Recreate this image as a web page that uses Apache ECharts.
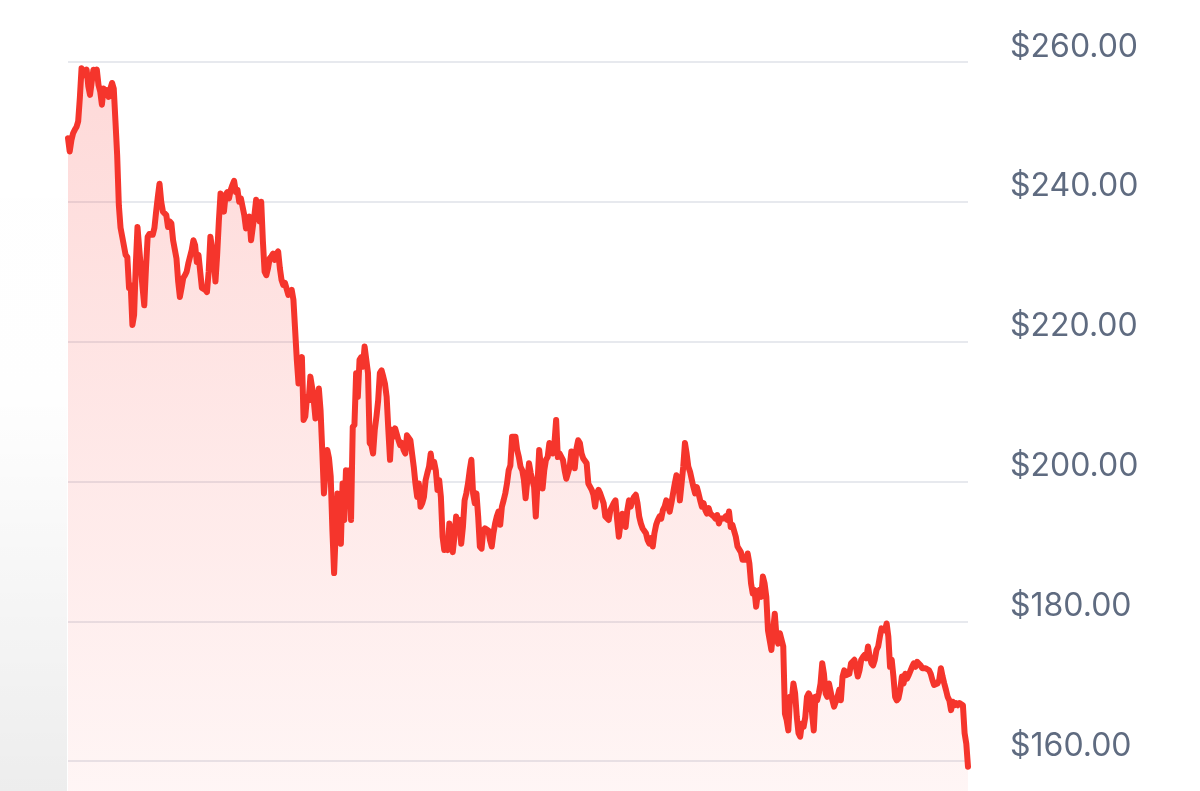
<!DOCTYPE html>
<html>
<head>
<meta charset="utf-8">
<style>
  html, body { margin: 0; padding: 0; background: #ffffff; }
  #chart { width: 1200px; height: 791px; }
</style>
<script src="https://cdn.jsdelivr.net/npm/echarts@6/dist/echarts.min.js"></script>
</head>
<body>
<div id="chart"></div>
<script>
// Closing prices, in order (one entry per session)
const pricesA = [
  249.1,247.2,248.8,249.8,250.3,250.7,251.5,254.9,259.1,258.9,258.1,258.9,256.5,255.3,257.2,258.9,258.6,258.9,256.7,255.8,
  253.9,256.2,255.3,256.0,255.0,256.2,257.0,256.2,251.5,246.7,239.5,236.3,235.0,234.8,232.4,232.1,227.7,228.1,222.4,223.8,
  231.0,236.4,233.4,230.5,227.7,225.2,230.5,235.0,235.4,235.5,235.3,236.3,238.6,240.7,242.6,240.0,238.6,238.8,238.1,236.4,
  237.2,236.9,234.5,233.2,231.9,228.6,226.4,227.7,229.1,229.5,230.0,231.2,231.4,233.1,234.5,233.8,231.4,232.4,230.0,227.7,
  227.5,227.4,227.1,230.0,235.0,235.0,231.7,228.6,232.4,237.2,241.2,241.4,238.6,241.0,241.4,240.5,241.7,242.4,243.0,241.4,
  241.7,240.0,240.5,239.3,238.1,236.2,237.2,237.9,234.5,236.3,238.1,240.3,240.3,237.2,240.0,234.3,230.0,229.5,230.5,231.9,
  232.2,232.6,231.7,232.6,232.9,230.5,228.8,228.1,228.4,228.6,226.7,227.0,227.4,226.0
];
const pricesB = [
  221.7,217.4,214.0,216.9,217.8,208.8,209.3,212.1,211.6,215.0,213.5,211.6,209.0,211.6,213.3,210.2,204.5,198.3,201.6,204.5,
  203.3,200.7,193.0,186.9,193.0,198.3,195.4,191.1,199.7,194.5,201.6,199.2,201.6,194.5,207.8,208.1,215.5,212.1,217.4,217.8,
  216.4,219.3,217.4,215.5,205.5,205.2,204.0,207.4,209.3,211.6,215.5,215.9,215.0,214.0,212.1,207.4,203.1,207.4,206.4,207.6,
  207.8,205.9,205.2,205.5,204.5,204.0,206.6,206.4,205.9,204.0,202.1,199.7,197.8,199.7,196.4,196.9,197.8,200.2,201.2,202.1,
  204.0,202.1,202.8,201.6,198.8,200.2,197.8,192.1,190.2,190.7,190.2,194.0,191.1,189.9,192.1,195.0,194.0,194.5,191.1,193.5,
  197.3,198.3,199.7,201.6,203.1,198.3,196.9,198.3,195.0,190.7,190.4,193.0,193.3,193.5,193.0,191.6,190.7,192.6,194.0,195.0,
  195.7,193.8
];
const pricesC = [
  196.4,197.3,198.3,199.7,201.6,202.3,206.4,206.6,206.4,204.5,203.5,202.1,201.6,200.2,197.6,200.2,202.6,201.2,200.2,199.2,
  195.0,199.7,204.5,202.1,199.0,201.6,203.1,203.5,205.5,205.0,204.0,205.5,208.8,203.5,204.0,204.0,203.1,201.6,200.4,200.2,
  202.1,204.3,204.0,201.9,204.7,205.9,205.5,204.0,203.3,203.5,202.6,199.7,199.5,198.8,198.1,196.4,198.3,198.8,198.3,198.3,
  196.9,195.0,195.0,194.5,195.9,196.4,196.9,197.3,194.5,192.1,194.0,195.4,194.0,193.5,195.9,197.3,196.4,197.3,197.8,198.1,
  196.9,195.0,194.0,193.3,193.5,192.6,191.6,191.1,191.9,190.7,192.6,193.8,194.5,195.0,194.7,195.9,196.4,197.3,197.1,195.7,
  196.9,198.3,199.7,200.9,200.2,197.3,199.7,202.1,205.5,204.0,202.1,201.4,201.2,199.2,198.3,199.2,198.3,197.3,196.4,196.9,
  195.9,195.4,196.2,195.4,195.2,195.0,194.7,195.2,194.0,194.7,194.5
];
const pricesD = [
  194.7,195.0,194.5,195.7,193.5,193.8,193.8,192.1,190.7,190.7,189.9,188.8,189.0,188.8,189.7,188.3,185.4,184.0,184.5,182.1,
  184.0,184.5,183.5,186.4,185.4,183.5,178.7,177.3,175.9,178.7,181.1,177.8,176.8,178.3,178.3,176.4,166.8,165.9,164.4,169.2,
  168.7,171.1,169.7,166.3,164.0,163.5,165.4,164.9,166.3,169.2,169.7,169.2,169.2,164.4,169.2,168.7,169.7,171.1,174.0,172.5,
  169.7,169.2,171.1,171.1,168.7,167.8,167.8,169.2,170.2,168.7,172.1,173.0,172.3,172.3,172.5,174.0,174.2,174.5,174.5,172.1,
  173.0,174.5,174.9,175.2,174.7,176.4,174.9,174.0,173.7,174.5,175.9,176.4,177.8,179.0,179.2,178.7,179.7,177.8,173.5,174.5,
  172.1,169.2,168.7,169.0,170.2,172.1,171.1,172.5,171.8,172.3,172.1,173.5,174.0,173.5,174.2,174.0,173.7,173.3,173.5,173.3,
  173.5,173.0,172.5,171.6,170.9,171.1,171.1,171.6,173.3,172.1,171.1,170.2,169.2,168.7,167.3,168.5,168.0,168.3,168.0,168.3,
  168.3,168.0,164.0,162.5,159.2
];
const prices = pricesA.concat(pricesB, pricesC, pricesD);
const sessions = prices.map((_, i) => String(i + 1));
const tickValues = [160, 180, 200, 220, 240, 260];

const chart = echarts.init(document.getElementById('chart'), null, { renderer: 'canvas' });
chart.setOption({
  backgroundColor: '#ffffff',
  animation: false,
  graphic: [{
    type: 'rect',
    left: 0, top: 0, z: -10, silent: true,
    shape: { width: 67, height: 791 },
    style: {
      fill: new echarts.graphic.LinearGradient(0, 0, 0, 1, [
        { offset: 0, color: 'rgba(0,0,0,0)' },
        { offset: 0.5, color: 'rgba(0,0,0,0.005)' },
        { offset: 1, color: 'rgba(0,0,0,0.07)' }
      ])
    }
  }],
  grid: { left: 68, top: 62, width: 900, height: 839, containLabel: false, outerBoundsMode: 'none' },
  xAxis: {
    type: 'category',
    data: sessions,
    boundaryGap: false,
    show: false
  },
  yAxis: {
    type: 'value',
    position: 'right',
    min: 140,
    max: 260,
    interval: 20,
    axisLine: { show: false },
    axisTick: { show: false },
    splitLine: { show: true, lineStyle: { color: '#e7e9ee', width: 2 } },
    axisLabel: {
      margin: 42,
      color: '#5f6b80',
      fontSize: 32,
      lineHeight: 30,
      fontFamily: 'Inter, "Noto Sans", sans-serif',
      verticalAlign: 'bottom',
      formatter: function (v) { return tickValues.indexOf(v) >= 0 ? '$' + v.toFixed(2) : ''; }
    }
  },
  series: [{
    type: 'line',
    data: prices,
    showSymbol: false,
    symbol: 'none',
    smooth: false,
    lineStyle: { color: '#f5352c', width: 6, join: 'round', cap: 'round' },
    areaStyle: {
      color: new echarts.graphic.LinearGradient(0, 62, 0, 791, [
        { offset: 0, color: 'rgba(250,60,55,0.28)' },
        { offset: 1, color: 'rgba(250,60,55,0.07)' }
      ], true)
    }
  }]
});
</script>
</body>
</html>
